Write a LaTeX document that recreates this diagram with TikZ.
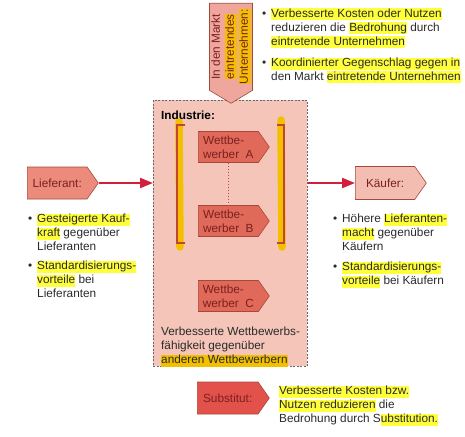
\documentclass[tikz,border=0pt]{standalone}
\usepackage{fontspec}
\setmainfont{Liberation Sans}
\usetikzlibrary{shapes.symbols,arrows.meta}
\definecolor{indfill}{HTML}{F5C5BA}
\definecolor{entfill}{HTML}{EFA69C}
\definecolor{lieffill}{HTML}{EC8A7C}
\definecolor{kauffill}{HTML}{F4BDB2}
\definecolor{wettfill}{HTML}{E0695A}
\definecolor{subfill}{HTML}{E2524A}
\definecolor{boxdraw}{HTML}{A4493A}
\definecolor{arrowred}{HTML}{D21F3C}
\definecolor{brack}{HTML}{C2452D}
\definecolor{hlyellow}{HTML}{FFFF3C}
\definecolor{hlgold}{HTML}{F3C000}
\definecolor{textgray}{HTML}{2A2A2A}
\definecolor{labred}{HTML}{7A2020}
\newcommand\hstrut{\rule[-3pt]{0pt}{12pt}}
\newcommand\hly[1]{{\setlength\fboxsep{0pt}\colorbox{hlyellow}{\hstrut #1}}}
\newcommand\hlg[1]{{\setlength\fboxsep{0pt}\colorbox{hlgold}{\hstrut #1}}}
\newcommand\bul{\makebox[9pt][l]{\textbullet}}
\begin{document}
\begin{tikzpicture}[x=1pt,y=-1pt,
  txt/.style={font=\fontsize{11.8}{14}\selectfont, inner sep=0pt, text=textgray, anchor=base west},
  sig/.style={shape=signal, signal to=east, signal pointer angle=110, draw=boxdraw, line width=0.6pt,
    inner sep=1pt, font=\fontsize{11.8}{14}\selectfont, text=labred, align=center,
    minimum width=71pt, minimum height=32pt, anchor=west},
  wett/.style={sig, fill=wettfill, minimum height=31pt, align=left},
  arr/.style={draw=arrowred, line width=2.2pt, -{Triangle[length=13pt,width=10pt]}},
  brk/.style={draw=brack, line width=1.2pt},
  hlstroke/.style={draw=hlgold, line width=7.5pt, line cap=round}
]
\useasboundingbox (0,0) rectangle (465,436);
\clip (0,0) rectangle (465,436);

% industry box
\node[draw=gray!80!black, dash pattern=on 2pt off 1.5pt, line width=0.8pt, fill=indfill,
  minimum width=154pt, minimum height=266pt, anchor=north west, inner sep=0pt] (ind) at (153,100) {};
\node[txt, font=\fontsize{11.8}{14}\selectfont\bfseries, text=black] (indlab) at (161,119.5) {Industrie:};

% bracket highlights
\draw[hlstroke] (179,122) -- (180,247);
\draw[hlstroke] (281,120) -- (282,247);
% brackets
\draw[brk] (185,125) -- (177,125) -- (177,243) -- (185,243);
\draw[brk] (277,125) -- (284,125) -- (284,243) -- (277,243);

% competitors
\node[wett] (wa) at (198,147) {Wettbe-\\werber\ \ A};
\node[wett] (wb) at (198,221) {Wettbe-\\werber\ \ B};
\node[wett] (wc) at (198,296) {Wettbe-\\werber\ \ C};
\draw[draw=brack, line width=1pt, dash pattern=on 1pt off 2pt] (wa.south) -- (wb.north);

\node[txt] (indtxt) at (161,335.5) {\begin{tabular}[t]{@{}l@{}}Verbesserte Wettbewerbs-\\f\"ahigkeit gegen\"uber\\\hlg{anderen Wettbewerbern}\end{tabular}};

% entrant
\node[sig, fill=entfill, rotate=90, signal to=west, signal pointer angle=118,
  minimum width=100pt, minimum height=43pt, anchor=east] (ent) at (231,3)
  {In den Markt\\\hlg{eintretendes}\\\hlg{Unternehmen:}};

% supplier / buyer
\node[sig, fill=lieffill] (lief) at (27,183) {Lieferant:};
\node[sig, fill=kauffill, minimum height=33pt] (kauf) at (355,183) {K\"aufer:};
\draw[arr] (lief.east) -- (lief.east -| ind.west);
\draw[arr] (kauf.west -| ind.east) -- (kauf.west);

% substitute
\node[sig, fill=subfill, minimum width=72pt] (sub) at (197,398) {Substitut:};

% texts
\node[txt] (toptxt) at (262,17.5) {\begin{tabular}[t]{@{}l@{}l@{}}\bul & \hly{Verbesserte Kosten oder Nutzen}\\
  & reduzieren die \hly{Bedrohung} durch\\
  & \hly{eintretende Unternehmen}\end{tabular}};
\node[txt] (toptxtb) at (262,66.5) {\begin{tabular}[t]{@{}l@{}l@{}}\bul & \hly{Koordinierter Gegenschlag gegen in}\\
  & den Markt \hly{eintretende Unternehmen}\end{tabular}};

\node[txt] (lefta) at (28,222.5) {\begin{tabular}[t]{@{}l@{}l@{}}\bul & \hly{Gesteigerte Kauf-}\\
  & \hly{kraft} gegen\"uber\\ & Lieferanten\end{tabular}};
\node[txt] (leftb) at (28,269.5) {\begin{tabular}[t]{@{}l@{}l@{}}\bul & \hly{Standardisierungs-}\\
  & \hly{vorteile} bei\\ & Lieferanten\end{tabular}};

\node[txt] (righta) at (333,222.5) {\begin{tabular}[t]{@{}l@{}l@{}}\bul & H\"ohere \hly{Lieferanten-}\\
  & \hly{macht} gegen\"uber\\ & K\"aufern\end{tabular}};
\node[txt] (rightb) at (333,270.5) {\begin{tabular}[t]{@{}l@{}l@{}}\bul & \hly{Standardisierungs-}\\
  & \hly{vorteile} bei K\"aufern\end{tabular}};

\node[txt] (subtxt) at (279,394.5) {\begin{tabular}[t]{@{}l@{}}\hly{Verbesserte Kosten bzw.}\\
  \hly{Nutzen reduzieren} die\\ Bedrohung durch S\hly{ubstitution.}\end{tabular}};
\end{tikzpicture}
\end{document}
